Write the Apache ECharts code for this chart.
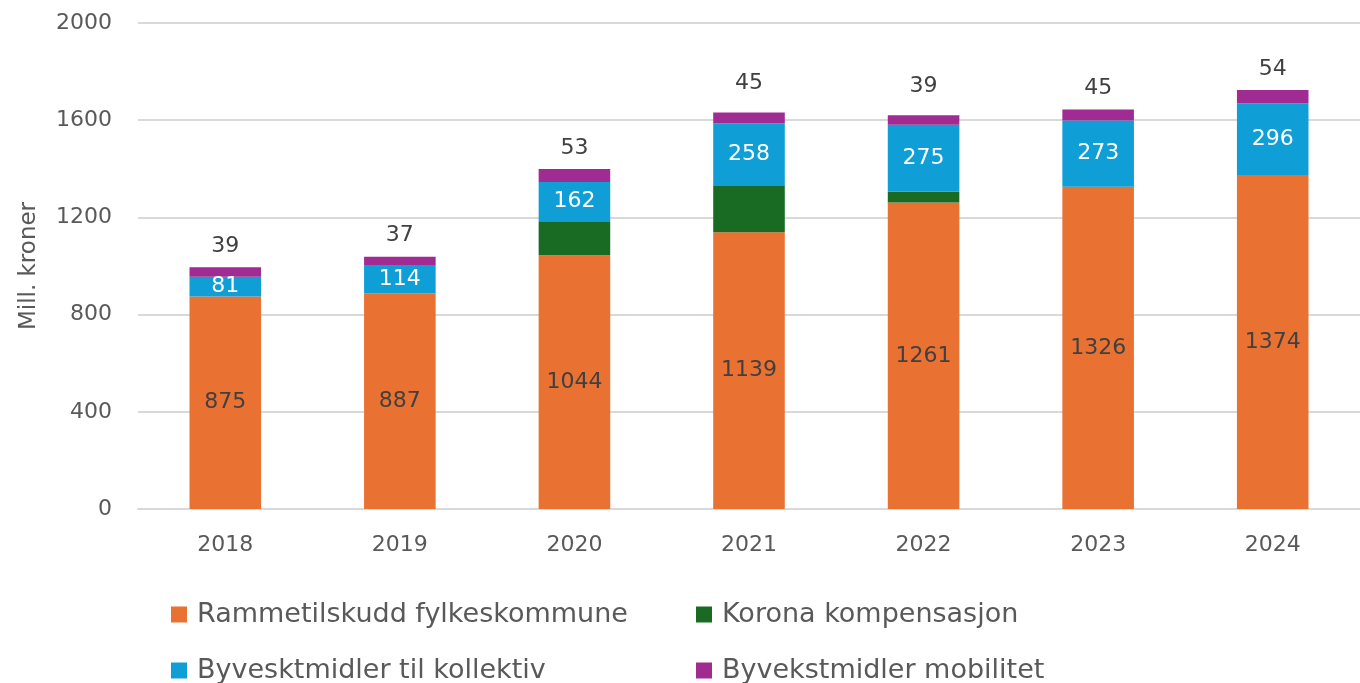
<!DOCTYPE html>
<html>
<head>
<meta charset="utf-8">
<script src="https://cdn.jsdelivr.net/npm/echarts@6/dist/echarts.min.js"></script>
<style>
  html, body { margin: 0; padding: 0; background: #fff; }
  #chart { width: 1360px; height: 683px; }
</style>
</head>
<body>
<div id="chart"></div>
<script>
const years = ['2018', '2019', '2020', '2021', '2022', '2023', '2024']
const rammetilskudd = [875, 887, 1044, 1139, 1261, 1326, 1374]
const korona = [0, 0, 140, 190, 45, 0, 0]
const kollektiv = [81, 114, 162, 258, 275, 273, 296]
const mobilitet = [39, 37, 53, 45, 39, 45, 54]
const seriesNames = ['Rammetilskudd fylkeskommune', 'Korona kompensasjon', 'Byvesktmidler til kollektiv', 'Byvekstmidler mobilitet']
const colors = ['#E97132', '#196B24', '#0F9ED5', '#A02B93']

const font = '"DejaVu Sans", sans-serif'
const chart = echarts.init(document.getElementById('chart'))

function bar(name, data, color, label) {
  return {
    name: name,
    type: 'bar',
    stack: 'total',
    barWidth: '41%',
    data: data,
    itemStyle: { color: color },
    label: label,
    emphasis: { disabled: true }
  }
}

// one legend per item so each sits where it does in the picture
const legendPos = [
  { left: 166, top: 596 },
  { left: 691, top: 596 },
  { left: 166, top: 652 },
  { left: 691, top: 652 }
]
const legends = seriesNames.map((n, i) => ({
  data: [n],
  left: legendPos[i].left,
  top: legendPos[i].top,
  icon: 'rect',
  itemWidth: 16,
  itemHeight: 16,
  textStyle: { fontFamily: font, fontSize: 27, color: '#595959', padding: [0, 0, 0, 5] }
}))

// in the original, the 2021 and 2022 top labels sit a bit higher
const mobilitetData = mobilitet.map((v, i) =>
  (i === 3 || i === 4) ? { value: v, label: { distance: 18 } } : v
)

const option = {
  animation: false,
  color: colors,
  textStyle: { fontFamily: font },
  legend: legends,
  grid: { left: 138, top: 23, width: 1231, height: 486 },
  xAxis: {
    type: 'category',
    data: years,
    axisLine: { lineStyle: { color: '#d9d9d9', width: 2 } },
    axisTick: { show: false },
    axisLabel: { color: '#595959', fontSize: 22, margin: 25, fontFamily: font }
  },
  yAxis: {
    type: 'value',
    min: 0,
    max: 2000,
    interval: 400,
    name: 'Mill. kroner',
    nameLocation: 'middle',
    nameGap: 97,
    nameTextStyle: { color: '#595959', fontSize: 23, fontFamily: font },
    axisLabel: { color: '#595959', fontSize: 22, margin: 26, fontFamily: font, formatter: v => String(v) },
    splitLine: { lineStyle: { color: '#d9d9d9', width: 2 } }
  },
  series: [
    bar(seriesNames[0], rammetilskudd, colors[0], {
      show: true, position: 'inside', color: '#404040', fontSize: 22, fontFamily: font
    }),
    bar(seriesNames[1], korona, colors[1], { show: false }),
    bar(seriesNames[2], kollektiv, colors[2], {
      show: true, position: 'inside', color: '#ffffff', fontSize: 22, fontFamily: font
    }),
    bar(seriesNames[3], mobilitetData, colors[3], {
      show: true, position: 'top', distance: 10, color: '#404040', fontSize: 22, fontFamily: font
    })
  ]
}
chart.setOption(option)
</script>
</body>
</html>
